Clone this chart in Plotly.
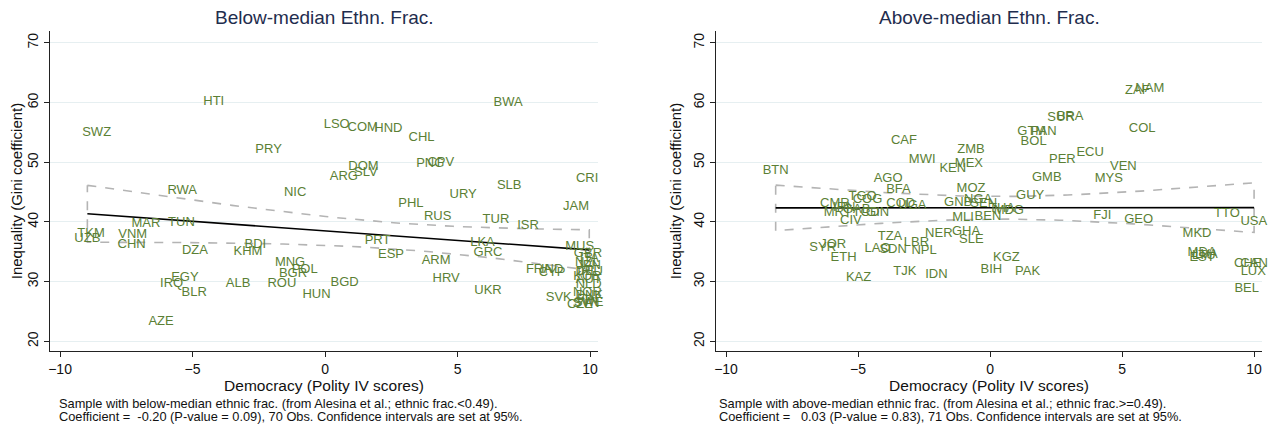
import numpy as np
import plotly.graph_objects as go

# ---------------- data: left panel (below-median ethnic frac.) ----------------
left_codes = ["HTI","SWZ","LSO","PRY","RWA","NIC","MAR","TUN","TKM","UZB","VNM","CHN","DZA","BDI","KHM",
              "ARG","DOM","SLV","COM","HND","CHL","BWA","PNG","CPV","SLB","CRI","URY","PHL","JAM","RUS",
              "TUR","ISR","PRT","LKA","GRC","MUS","MNG","POL","BGR","EGY","IRQ","BLR","ALB","ROU","HUN",
              "BGD","AZE","ESP","ARM","HRV","UKR","FRA","IND","CYP","SVK",
              "GBR","ITA","NZL","JPN","IRL","DEU","KOR","AUT","NLD","NOR","DNK","FIN","SWE","SVN","CZE"]
left_democ = [-4.20,-8.62,0.44,-2.13,-5.39,-1.13,-6.76,-5.42,-8.83,-8.97,-7.26,-7.30,-4.91,-2.63,-2.91,
              0.71,1.45,1.54,1.42,2.39,3.64,6.91,3.97,4.37,6.95,9.89,5.21,3.24,9.47,4.25,
              6.45,7.66,1.98,5.94,6.15,9.61,-1.32,-0.77,-1.21,-5.29,-5.79,-4.94,-3.28,-1.63,-0.32,
              0.74,-6.19,2.49,4.19,4.57,6.15,8.07,8.57,8.57,8.82,
              9.92,9.97,9.90,9.95,9.90,9.97,9.90,9.95,9.95,9.90,9.97,9.90,9.95,9.85,9.62]
left_gini = [60.17,54.97,56.21,52.18,45.20,44.91,39.77,39.88,38.04,37.10,37.77,36.26,35.14,36.26,35.02,
             47.59,49.27,48.26,55.81,55.64,54.13,59.99,49.67,49.84,46.14,47.25,44.48,42.97,42.56,40.84,
             40.45,39.33,36.81,36.53,34.85,35.86,33.18,32.07,31.33,30.66,29.56,28.15,29.66,29.56,27.88,
             29.82,23.28,34.46,33.46,30.49,28.54,32.07,32.07,31.50,27.31,
             34.60,33.90,33.20,32.60,31.70,31.60,30.80,30.30,29.40,28.10,27.60,27.00,26.50,26.30,26.20]

# ---------------- data: right panel (above-median ethnic frac.) ----------------
right_codes = ["CAF","ZMB","MWI","MEX","KEN","BTN","AGO","BFA","MOZ","TGO","COG","CMR","MRT","TCD","GIN",
               "IRN","GAB","CIV","COD","UGA","GNB","NGA","SEN","MLI","BEN","NER","GHA","SLE","TZA",
               "SYR","JOR","ETH","KAZ","LAO","SDN","LBR","NPL","TJK","IDN","BIH","KGZ","PAK","MDG","THA",
               "ZAF","NAM","SUR","BRA","GTM","PAN","BOL","COL","ECU","PER","VEN","MYS","GMB","GUY","FJI",
               "GEO","TTO","USA","MKD","MDA","LVA","EST","LTU","CHE","CAN","LUX","BEL"]
right_democ = [-3.26,-0.72,-2.57,-0.80,-1.41,-8.12,-3.86,-3.47,-0.72,-4.83,-4.64,-5.88,-5.77,-4.70,-4.26,
               -5.52,-5.05,-5.27,-3.38,-2.94,-1.21,-0.45,-0.24,-1.02,-0.08,-1.94,-0.91,-0.71,-3.79,
               -6.34,-5.94,-5.55,-4.98,-4.26,-3.67,-2.79,-2.50,-3.23,-2.03,0.05,0.62,1.42,0.71,0.45,
               5.58,6.05,2.69,3.03,1.58,2.03,1.65,5.76,3.79,2.74,5.05,4.50,2.15,1.52,4.25,
               5.63,8.97,9.99,7.84,8.03,8.19,8.03,8.10,9.76,10.00,9.97,9.72]
right_gini = [53.69,52.07,50.50,49.67,48.93,48.66,47.26,45.36,45.64,44.19,43.80,43.13,41.56,41.56,41.56,
              42.40,42.00,40.28,43.13,42.67,43.24,43.80,43.13,40.72,40.89,38.04,38.38,36.98,37.53,
              35.69,36.14,33.92,30.57,35.58,35.30,36.53,35.25,31.66,31.22,32.07,34.02,31.61,41.84,42.23,
              61.96,62.24,57.48,57.65,55.07,55.07,53.45,55.64,51.62,50.34,49.27,47.32,47.43,44.36,41.12,
              40.45,41.39,40.05,38.04,34.85,34.58,33.92,34.30,33.00,33.00,31.61,28.80]

titles = ["Below-median Ethn. Frac.", "Above-median Ethn. Frac."]
note_line1 = [
    "Sample with below-median ethnic frac. (from Alesina et al.; ethnic frac.<0.49).",
    "Sample with above-median ethnic frac. (from Alesina et al.; ethnic frac.>=0.49).",
]
note_line2 = [
    "Coefficient =\u00a0\u00a0-0.20 (P-value = 0.09), 70 Obs. Confidence intervals are set at 95%.",
    "Coefficient =\u00a0\u00a0\u00a00.03 (P-value = 0.83), 71 Obs. Confidence intervals are set at 95%.",
]
x_ticks = [-10, -5, 0, 5, 10]
y_ticks = [20, 30, 40, 50, 60, 70]

LABEL_COLOR = "#5b7f35"
FONT = "Liberation Sans, Arial, sans-serif"
OFF = 8                     # default page body margin
W, H = 1277 - OFF, 429 - OFF


def px_x(px):
    return (px - OFF) / W


def px_y(py):
    return 1 - (py - OFF) / H


def lfitci(x, y, t=1.995):
    x = np.asarray(x, float)
    y = np.asarray(y, float)
    n = len(x)
    mx = x.mean()
    sxx = ((x - mx) ** 2).sum()
    b = ((x - mx) * (y - y.mean())).sum() / sxx
    a = y.mean() - b * mx
    resid = y - (a + b * x)
    s = np.sqrt((resid ** 2).sum() / (n - 2))
    g = np.linspace(x.min(), x.max(), 60)
    fit = a + b * g
    hw = t * s * np.sqrt(1.0 / n + (g - mx) ** 2 / sxx)
    return g, fit, fit - hw, fit + hw


fig = go.Figure()
panels = [(left_codes, left_democ, left_gini, "x", "y"),
          (right_codes, right_democ, right_gini, "x2", "y2")]
for codes, xs, ys, xa, ya in panels:
    g, fit, lo, hi = lfitci(xs, ys)
    poly_x = list(g) + list(g[::-1]) + [g[0]]
    poly_y = list(hi) + list(lo[::-1]) + [hi[0]]
    fig.add_trace(go.Scatter(x=poly_x, y=poly_y, mode="lines",
                             line=dict(color="#b4b4b4", width=1.6, dash="dash"),
                             xaxis=xa, yaxis=ya, showlegend=False, hoverinfo="skip"))
    fig.add_trace(go.Scatter(x=g, y=fit, mode="lines",
                             line=dict(color="black", width=1.6),
                             xaxis=xa, yaxis=ya, showlegend=False, hoverinfo="skip"))
    fig.add_trace(go.Scatter(x=xs, y=ys, mode="text", text=codes,
                             textposition="middle center",
                             textfont=dict(family=FONT, size=13, color=LABEL_COLOR),
                             cliponaxis=False, xaxis=xa, yaxis=ya, showlegend=False))

xdom = [[px_x(50), px_x(598)], [px_x(716), px_x(1262)]]
ydom = [px_y(351), px_y(31)]
common_x = dict(range=[-10.38, 10.3], tickvals=x_ticks, ticks="outside", ticklen=5,
                tickcolor="#222", showline=True, linecolor="#222", linewidth=1,
                showgrid=False, zeroline=False, automargin=False,
                tickfont=dict(family=FONT, size=14, color="#111"),
                title=dict(text="Democracy (Polity IV scores)", standoff=4,
                           font=dict(family=FONT, size=15.5, color="#111")))
common_y = dict(range=[18.37, 72.0], tickvals=y_ticks, ticks="outside", ticklen=5,
                tickcolor="#222", showline=True, linecolor="#222", linewidth=1,
                showgrid=True, gridcolor="#e6eff1", gridwidth=1, zeroline=False,
                tickangle=-90, domain=ydom, automargin=False,
                tickfont=dict(family=FONT, size=14, color="#111"),
                title=dict(text="Inequality (Gini coefficient)", standoff=6,
                           font=dict(family=FONT, size=15, color="#111")))

fig.update_layout(
    width=W, height=H, margin=dict(l=0, r=0, t=0, b=0, autoexpand=False),
    paper_bgcolor="white", plot_bgcolor="white",
    xaxis=dict(domain=xdom[0], anchor="y", **common_x),
    yaxis=dict(anchor="x", **common_y),
    xaxis2=dict(domain=xdom[1], anchor="y2", **common_x),
    yaxis2=dict(anchor="x2", **common_y),
)

centers = [(xdom[0][0] + xdom[0][1]) / 2, (xdom[1][0] + xdom[1][1]) / 2]
for i in range(2):
    fig.add_annotation(text=titles[i], x=centers[i], y=px_y(18), xref="paper", yref="paper",
                       showarrow=False, xanchor="center", yanchor="middle",
                       font=dict(family=FONT, size=19, color="#1f2d4e"))
    nx = px_x(57 if i == 0 else 717)
    fig.add_annotation(text=note_line1[i], x=nx, y=px_y(403),
                       xref="paper", yref="paper", showarrow=False, xanchor="left",
                       yanchor="middle", align="left",
                       font=dict(family=FONT, size=12.8, color="#111"))
    fig.add_annotation(text=note_line2[i], x=nx, y=px_y(416),
                       xref="paper", yref="paper", showarrow=False, xanchor="left",
                       yanchor="middle", align="left",
                       font=dict(family=FONT, size=12.8, color="#111"))

fig.write_html("out.html")
